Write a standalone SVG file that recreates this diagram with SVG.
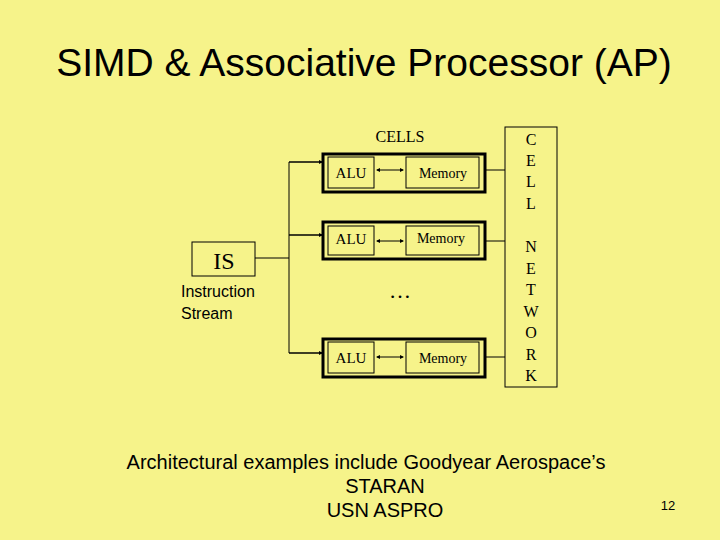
<svg xmlns="http://www.w3.org/2000/svg" width="720" height="540" viewBox="0 0 720 540">
<style>
.s{font-family:"Liberation Serif",serif;fill:#000}
.a{font-family:"Liberation Sans",Arial,sans-serif;fill:#000}
.b{fill:none;stroke:#000;stroke-width:1}
.o{fill:none;stroke:#000;stroke-width:3}
.l{stroke:#000;stroke-width:1;fill:none}
.r{stroke:#000;stroke-width:1.5;fill:none;marker-end:url(#m)}
.d{stroke:#000;stroke-width:1;fill:none;marker-start:url(#m);marker-end:url(#m)}
</style>
<defs>
<marker id="m" markerWidth="4" markerHeight="4" refX="3" refY="2" orient="auto-start-reverse" markerUnits="userSpaceOnUse"><path d="M0,0L4,2L0,4z" fill="#000"/></marker>
</defs>
<rect width="720" height="540" fill="#f6f38a"/>
<text class="a" x="364" y="76" font-size="39" text-anchor="middle">SIMD &amp; Associative Processor (AP)</text>
<text class="s" x="400" y="142" font-size="16" text-anchor="middle">CELLS</text>
<g id="is"><rect class="b" x="192" y="242" width="63" height="34"/><text class="s" x="224" y="269" font-size="24" text-anchor="middle">IS</text>
<text class="a" x="181" y="297" font-size="16">Instruction</text><text class="a" x="181" y="319" font-size="16">Stream</text></g>
<g id="cell1"><rect class="o" x="323" y="154" width="162" height="38"/><rect class="b" x="328" y="157" width="46" height="31"/><text class="s" x="351" y="178" font-size="15" text-anchor="middle">ALU</text><rect class="b" x="406" y="157" width="73" height="31"/><text class="s" x="443" y="178" font-size="14" text-anchor="middle">Memory</text></g>
<g id="cell2"><rect class="o" x="323" y="222" width="162" height="37"/><rect class="b" x="328" y="226" width="46" height="29"/><text class="s" x="351" y="244" font-size="15" text-anchor="middle">ALU</text><rect class="b" x="406" y="226" width="73" height="29"/><text class="s" x="441" y="243" font-size="14" text-anchor="middle">Memory</text></g>
<g id="cell3"><rect class="o" x="323" y="339" width="162" height="38"/><rect class="b" x="328" y="342" width="46" height="31"/><text class="s" x="351" y="363" font-size="15" text-anchor="middle">ALU</text><rect class="b" x="406" y="342" width="73" height="31"/><text class="s" x="443" y="363" font-size="14" text-anchor="middle">Memory</text></g>
<text class="s" x="400" y="298" font-size="22" text-anchor="middle">…</text>
<g id="network"><rect class="b" x="505" y="127" width="52" height="260"/>
<g class="s" font-size="16" text-anchor="middle"><text x="531" y="145">C</text><text x="531" y="166">E</text><text x="531" y="187">L</text><text x="531" y="209">L</text><text x="531" y="252">N</text><text x="531" y="274">E</text><text x="531" y="295">T</text><text x="531" y="317">W</text><text x="531" y="338">O</text><text x="531" y="360">R</text><text x="531" y="381">K</text></g></g>
<g id="connectors">
<path class="l" d="M255,258H289M289,162V353"/>
<path class="r" d="M289,162H322"/><path class="r" d="M289,235H322"/><path class="r" d="M289,353H322"/>
<path class="d" d="M377,170H403"/><path class="d" d="M377,241H403"/><path class="d" d="M377,357H403"/>
<path class="l" d="M485,170H505M485,241H505M485,357H505"/>
</g>
<text class="a" x="366" y="469" font-size="20" text-anchor="middle">Architectural examples include Goodyear Aerospace’s</text>
<text class="a" x="385" y="493" font-size="20" text-anchor="middle">STARAN</text>
<text class="a" x="385" y="517" font-size="20" text-anchor="middle">USN ASPRO</text>
<text class="a" x="668" y="510" font-size="13" text-anchor="middle">12</text>
</svg>
